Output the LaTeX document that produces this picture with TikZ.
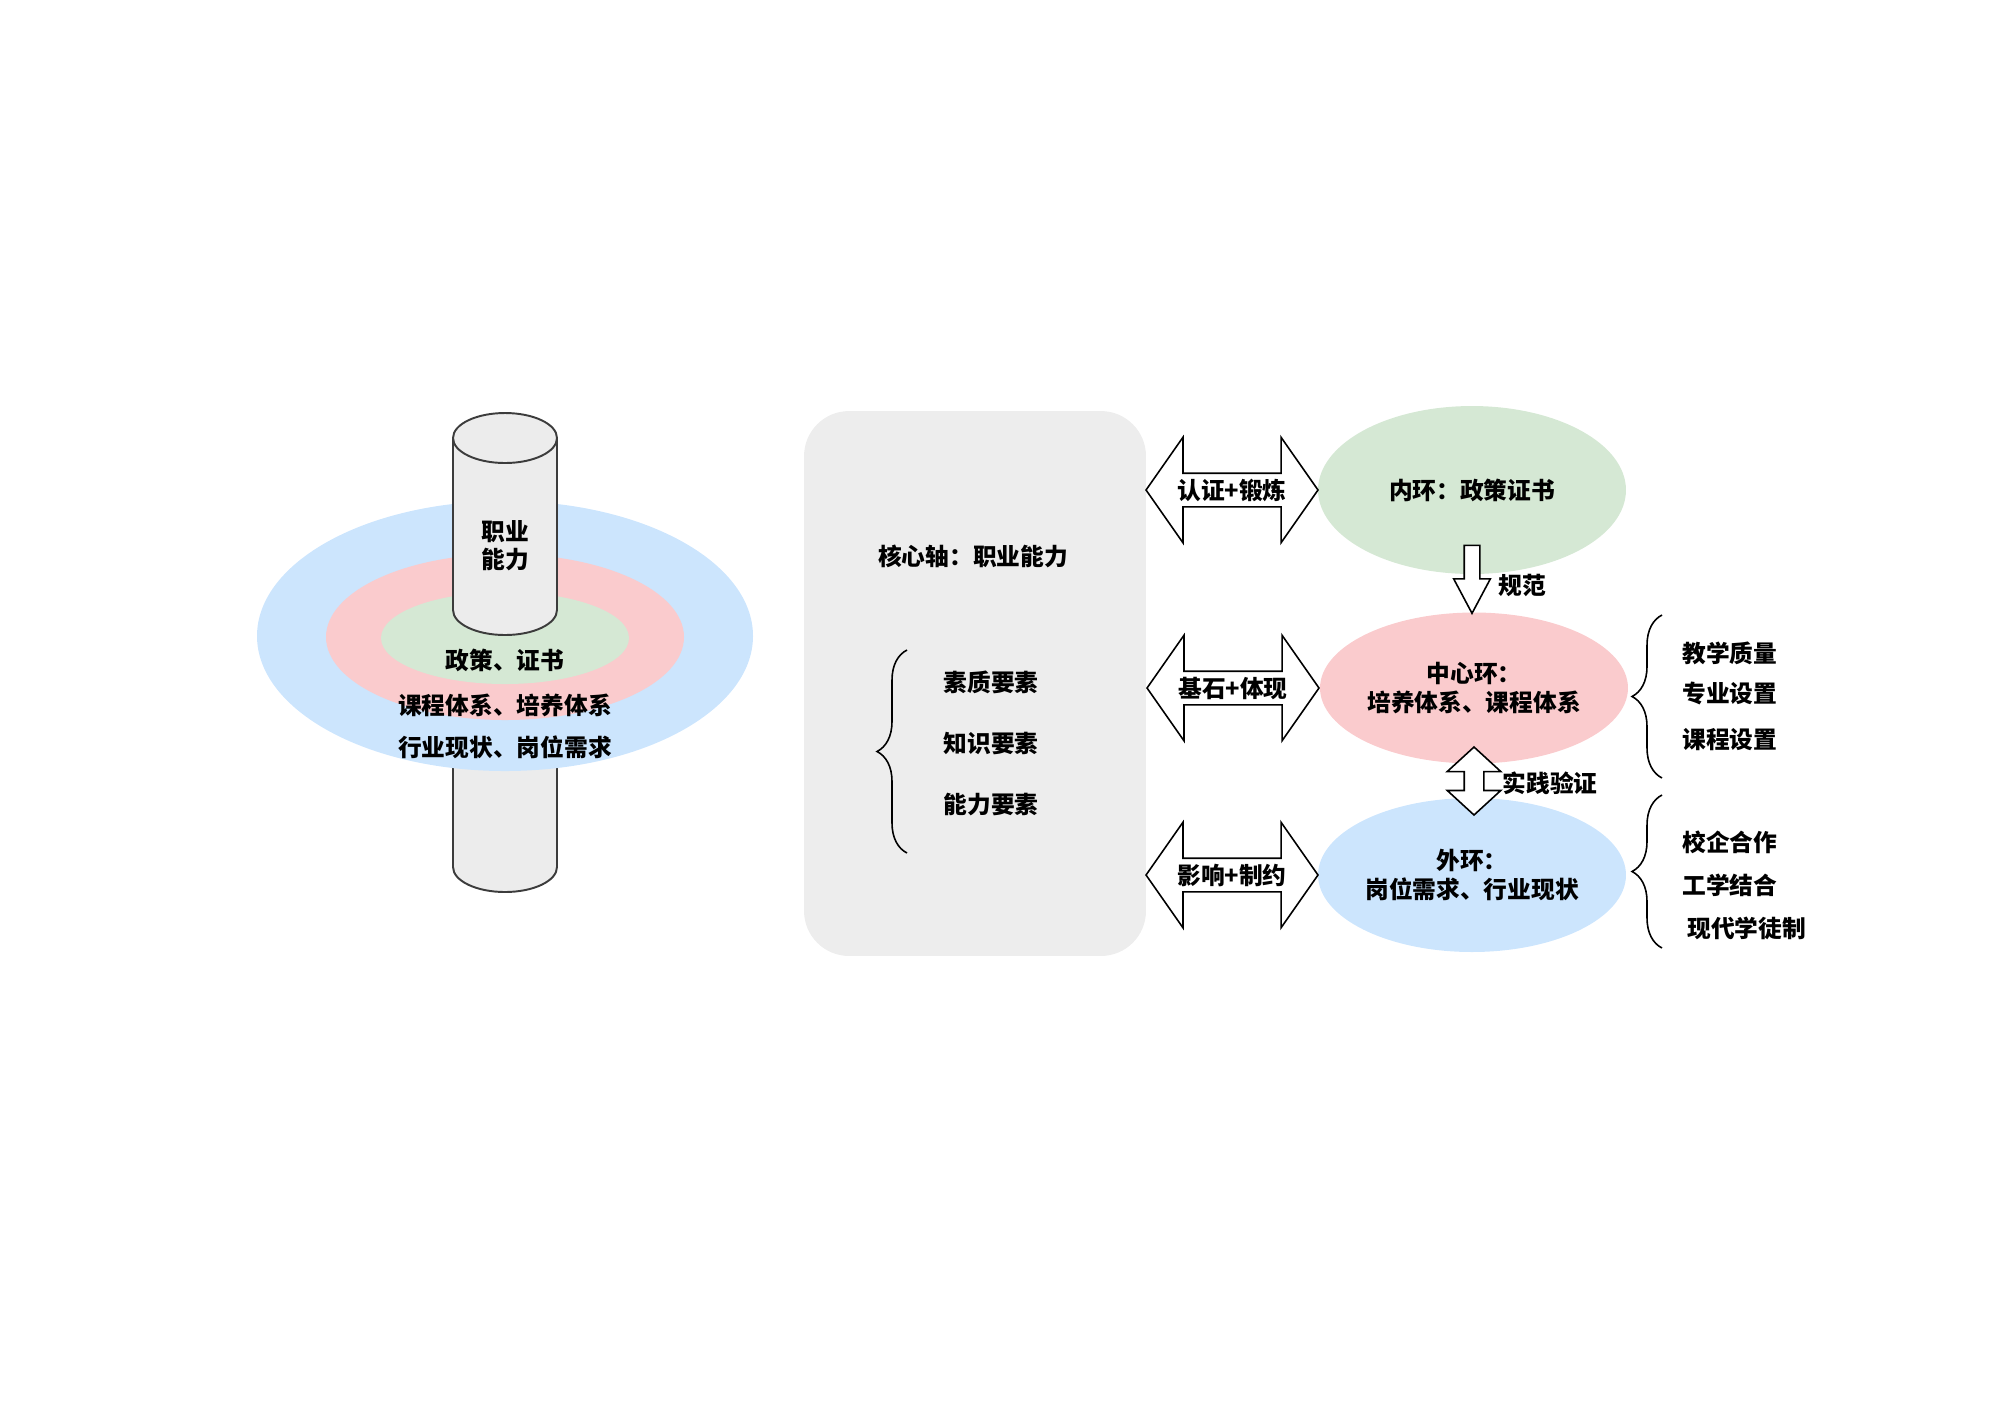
\documentclass[tikz,border=0pt]{standalone}
\usepackage{fontspec}
\setmainfont{Noto Sans CJK SC}[BoldFont={Noto Sans CJK SC Black}]
\usetikzlibrary{shapes.geometric,shapes.arrows,decorations.pathreplacing,calc}

\definecolor{ringblue}{RGB}{204,229,253}
\definecolor{ringpink}{RGB}{250,203,205}
\definecolor{ringgreen}{RGB}{213,232,212}
\definecolor{panelgray}{RGB}{237,237,237}
\definecolor{cylgray}{RGB}{236,236,236}
\definecolor{cyledge}{RGB}{60,60,60}

\begin{document}
\begin{tikzpicture}[x=0.02cm,y=0.02cm]

        % Styles
        \tikzset{
          txt/.style={font=\fontsize{13.5}{17}\selectfont\bfseries,
                      inner sep=0pt,align=center},
          cyl/.style={fill=cylgray,draw=cyledge,line width=1.1pt},
          ring/.style={ellipse,minimum width=6.16cm,inner sep=0pt},
          lrarrow/.style={double arrow,draw,fill=white,line width=0.9pt,
                          minimum height=3.44cm,minimum width=2.08cm,
                          inner sep=0.32cm,double arrow head extend=0.72cm,
                          double arrow tip angle=110},
          brc/.style={decorate,line width=0.9pt,
                      decoration={brace,amplitude=0.6cm}}
        }

        \useasboundingbox (0,0) rectangle (2000,-1418);

        % y-coordinates of the three rings (right)
        \def\yinner{-490}
        \def\ycenter{-688}
        \def\youter{-875}

        %-------------------------------
        % Left: axis through three rings
        %-------------------------------
        % lower part of the axis (behind the rings)
        \draw[cyl] (453,-700) -- (453,-867)
              arc[start angle=180,end angle=360,x radius=52,y radius=25]
              -- (557,-700) -- cycle;

        \fill[ringblue]  (505,-636) ellipse [x radius=248,y radius=135];
        \fill[ringpink]  (505,-637) ellipse [x radius=179,y radius=83];
        \fill[ringgreen] (505,-638) ellipse [x radius=124,y radius=46];

        % upper part of the axis
        \draw[cyl] (453,-438) -- (453,-610)
              arc[start angle=180,end angle=360,x radius=52,y radius=25]
              -- (557,-438) -- cycle;
        \draw[cyl] (505,-438) ellipse [x radius=52,y radius=25];

        \node[txt] (axis) at (505,-546) {职业\\[-1pt]能力};
        \node[txt] (lin)  at (505,-660) {政策、证书};
        \node[txt] (lmid) at (505,-705) {课程体系、培养体系};
        \node[txt] (lout) at (505,-747) {行业现状、岗位需求};

        %-------------------------------
        % Middle: core axis panel
        %-------------------------------
        \node[fill=panelgray,rounded corners=0.9cm,minimum width=6.84cm,
              minimum height=10.9cm] (core) at (975,-683.5) {};

        \node[txt] (coretitle) at (973,-556) {核心轴：职业能力};
        \foreach \t/\y [count=\i] in {素质要素/-682,知识要素/-743,能力要素/-805}
            \node[txt] (elem\i) at (991,\y) {\t};

        \draw[brc] (907,-853) -- (907,-650);

        %-------------------------------
        % Right: the three rings
        %-------------------------------
        \node[ring,txt,fill=ringgreen,minimum height=3.36cm]
            (ringI) at (1472,\yinner) {内环：政策证书};
        \node[ring,txt,fill=ringpink,minimum height=3.02cm]
            (ringC) at (1474,\ycenter) {中心环：\\培养体系、课程体系};
        \node[ring,txt,fill=ringblue,minimum height=3.08cm]
            (ringO) at (1472,\youter) {外环：\\岗位需求、行业现状};

        % block arrows panel <-> rings
        \node[lrarrow] (a1) at ($(core.east |- ringI)!0.5!(ringI.west)$) {};
        \node[lrarrow] (a2) at ($(core.east |- ringC)!0.5!(ringC.west)$) {};
        \node[lrarrow] (a3) at ($(core.east |- ringO)!0.5!(ringO.west)$) {};
        \node[txt] (l1) at (a1) {认证+锻炼};
        \node[txt] (l2) at (a2) {基石+体现};
        \node[txt] (l3) at (a3) {影响+制约};

        % between the rings
        \node[single arrow,draw,fill=white,line width=0.9pt,
              shape border rotate=270,minimum height=1.36cm,inner sep=0.14cm,
              single arrow head extend=0.21cm,single arrow tip angle=56]
            (a4) at (1472,-572) {};
        \node[txt] (l4) at (1522,-585) {规范};

        \node[double arrow,draw,fill=white,line width=0.9pt,
              shape border rotate=90,minimum height=1.36cm,inner sep=0.18cm,
              double arrow head extend=0.34cm,double arrow tip angle=95]
            (a5) at (1474,-781) {};
        \node[txt] (l5) at (1550,-783) {实践验证};

        %-------------------------------
        % Braces and measures on the right
        %-------------------------------
        \draw[brc] (1662,-778) -- (1662,-615);
        \draw[brc] (1662,-948) -- (1662,-795);

        \node[txt,anchor=west] (m1) at (1682,-653) {教学质量};
        \node[txt,anchor=west] (m2) at (1682,-693) {专业设置};
        \node[txt,anchor=west] (m3) at (1682,-740) {课程设置};
        \node[txt,anchor=west] (m4) at (1682,-842) {校企合作};
        \node[txt,anchor=west] (m5) at (1682,-885) {工学结合};
        \node[txt,anchor=west] (m6) at (1687,-928) {现代学徒制};

    \end{tikzpicture}
\end{document}
